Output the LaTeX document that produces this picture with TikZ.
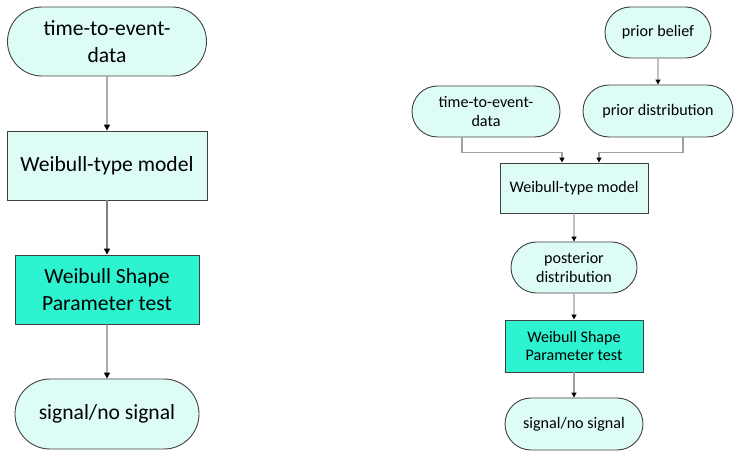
\documentclass[tikz,border=0pt]{standalone}
\usepackage{fontspec}
\setmainfont{Carlito}
\usetikzlibrary{shapes.misc,arrows.meta}
\definecolor{lightfill}{HTML}{DEFCF6}
\definecolor{tealfill}{HTML}{2DF3D1}
\definecolor{borderc}{HTML}{404040}
\definecolor{connL}{HTML}{808080}
\definecolor{connR}{HTML}{A0A0A0}
\tikzset{
  stadium/.style={rounded rectangle, draw=borderc, line width=0.9pt, fill=lightfill, align=center, inner sep=0pt},
  boxlight/.style={rectangle, draw=borderc, line width=0.9pt, fill=lightfill, align=center, inner sep=0pt},
  boxteal/.style={rectangle, draw=borderc, line width=0.9pt, fill=tealfill, align=center, inner sep=0pt},
  bigtxt/.style={font=\fontsize{21.6}{26.5}\selectfont},
  smalltxt/.style={font=\fontsize{16.1}{18.5}\selectfont},
  arrL/.style={draw=connL, line width=1.3pt, -{Triangle[width=6pt,length=6pt,color=black,fill=black]}},
  arrR/.style={draw=connR, line width=1.4pt, -{Triangle[width=5pt,length=5pt,color=black,fill=black]}},
}
\begin{document}
\begin{tikzpicture}[x=1pt,y=-1pt]
\useasboundingbox (0,0) rectangle (740,457);
% left column
\node[stadium,bigtxt,minimum width=199pt,minimum height=69pt] (L1) at (107,41.5) {time-to-event-\\data};
\node[boxlight,bigtxt,minimum width=200pt,minimum height=69pt] (L2) at (107,165.5) {Weibull-type model};
\node[boxteal,bigtxt,minimum width=184pt,minimum height=69pt] (L3) at (107,289.5) {Weibull Shape\\Parameter test};
\node[stadium,bigtxt,minimum width=184pt,minimum height=70pt] (L4) at (107,414) {signal/no signal};
\draw[arrL] (L1) -- (L2);
\draw[arrL] (L2) -- (L3);
\draw[arrL] (L3) -- (L4);
% right column
\node[stadium,smalltxt,minimum width=106pt,minimum height=51pt] (R1) at (658,32.5) {prior belief};
\node[stadium,smalltxt,minimum width=150pt,minimum height=52pt] (R2) at (658,111) {prior distribution};
\node[stadium,smalltxt,minimum width=148pt,minimum height=51pt] (R3) at (486,111.5) {time-to-event-\\data};
\node[boxlight,smalltxt,minimum width=148pt,minimum height=50pt] (R4) at (574,188) {Weibull-type model};
\node[stadium,smalltxt,minimum width=126pt,minimum height=51pt] (R5) at (574,267.5) {posterior\\distribution};
\node[boxteal,smalltxt,minimum width=138pt,minimum height=52pt] (R6) at (574,346) {Weibull Shape\\Parameter test};
\node[stadium,smalltxt,minimum width=138pt,minimum height=52pt] (R7) at (574,424) {signal/no signal};
\draw[arrR] (R1) -- (R2);
\draw[arrR] ([xshift=-24pt]R3.south) -- ++(0,15) -| ([xshift=-12pt]R4.north);
\draw[arrR] ([xshift=25pt]R2.south) -- ++(0,15) -| ([xshift=25pt]R4.north);
\draw[arrR] (R4) -- (R5);
\draw[arrR] (R5) -- (R6);
\draw[arrR] (R6) -- (R7);
\end{tikzpicture}
\end{document}
